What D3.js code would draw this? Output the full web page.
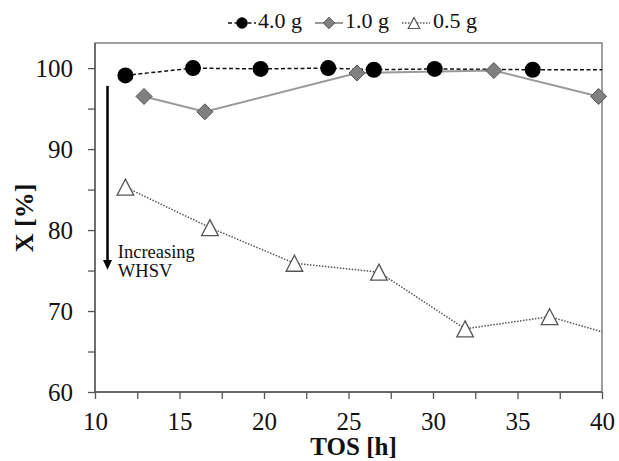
<!DOCTYPE html>
<html>
<head>
<meta charset="utf-8">
<script src="https://cdn.jsdelivr.net/npm/d3@7"></script>
<style>
  body { margin: 0; background: #fff; }
  #chart text { font-family: "Liberation Serif", "Times New Roman", serif; fill: #111; }
</style>
</head>
<body>
<div id="chart"></div>
<script>
// TOS [h] and conversion X [%] per catalyst loading
const tos40 = [11.8, 15.8, 19.8, 23.8, 26.5, 30.1, 35.9, 42.0];
const conv40 = [99.1, 100.0, 99.9, 100.0, 99.8, 99.9, 99.8, 99.8];
const tos10 = [12.9, 16.5, 25.5, 33.6, 39.8];
const conv10 = [96.5, 94.6, 99.4, 99.7, 96.5];
const tos05 = [11.8, 16.8, 21.8, 26.8, 31.9, 36.9, 41.9];
const conv05 = [85.3, 80.3, 75.9, 74.8, 67.8, 69.3, 66.3];

const xTicks = [10, 15, 20, 25, 30, 35, 40];
const yTicks = [60, 70, 80, 90, 100];
const seriesNames = ["4.0 g", "1.0 g", "0.5 g"];

const W = 619, H = 461;
const margin = { top: 43, right: 17, bottom: 69, left: 95 };
const width = W - margin.left - margin.right;
const height = H - margin.top - margin.bottom;

const svg = d3.select("#chart").append("svg")
  .attr("width", W).attr("height", H);

const x = d3.scaleLinear().domain([10, 40]).range([0, width]);
const y = d3.scaleLinear().domain([60, 103.1]).range([height, 0]);

const g = svg.append("g")
  .attr("transform", `translate(${margin.left},${margin.top})`);

g.append("defs").append("clipPath").attr("id", "clip")
  .append("rect").attr("width", width).attr("height", height);

// frame
g.append("rect")
  .attr("width", width).attr("height", height)
  .attr("fill", "none").attr("stroke", "#808080").attr("stroke-width", 1.5);

// axes
const xAxis = g.append("g")
  .attr("transform", `translate(0,${height})`)
  .call(d3.axisBottom(x).tickValues(d3.range(10, 40.1, 2.5)).tickSize(7)
    .tickFormat(d => xTicks.includes(d) ? d : ""));
const yAxis = g.append("g")
  .call(d3.axisLeft(y).tickValues(d3.range(60, 100.1, 5)).tickSize(7)
    .tickFormat(d => yTicks.includes(d) ? d : ""));

[xAxis, yAxis].forEach(a => {
  a.attr("font-family", "'Liberation Serif', serif");
  a.select(".domain").remove();
  a.selectAll("line").attr("stroke", "#555").attr("stroke-width", 1.3);
  a.selectAll("text").style("font-size", "25px").attr("fill", "#111");
});
xAxis.selectAll("text").attr("dy", 0).attr("y", 38);
yAxis.selectAll("text").attr("x", -22);
g.append("line").attr("x1", 0).attr("x2", width).attr("y1", height).attr("y2", height)
  .attr("stroke", "#555").attr("stroke-width", 1.3);
g.append("line").attr("x1", 0).attr("x2", 0).attr("y1", 0).attr("y2", height)
  .attr("stroke", "#555").attr("stroke-width", 1.3);

// axis titles
svg.append("text")
  .attr("x", margin.left + x(25.3)).attr("y", 455)
  .attr("text-anchor", "middle")
  .style("font-size", "25px").style("font-weight", "bold")
  .text("TOS [h]");
svg.append("text")
  .attr("transform", `translate(33,${margin.top + y(81.5)}) rotate(-90)`)
  .attr("text-anchor", "middle")
  .style("font-size", "26px").style("font-weight", "bold")
  .text("X [%]");

const line = d3.line().x(d => x(d[0])).y(d => y(d[1]));
const plot = g.append("g");
const lines = plot.append("g").attr("clip-path", "url(#clip)");

const s40 = d3.zip(tos40, conv40);
const s10 = d3.zip(tos10, conv10);
const s05 = d3.zip(tos05, conv05);
const inside = d => d[0] <= 40;

const triPath = sz => "M0," + (-sz * 0.5) + "L" + (sz * 0.52) + "," + (sz * 0.5) + "L" + (-sz * 0.52) + "," + (sz * 0.5) + "Z";
const diaPath = sz => `M0,${-sz}L${sz},0L0,${sz}L${-sz},0Z`;

// 4.0 g
lines.append("path").datum(s40)
  .attr("fill", "none").attr("stroke", "#111").attr("stroke-width", 1.5)
  .attr("stroke-dasharray", "4,2.5").attr("d", line);
plot.selectAll(".c40").data(s40.filter(inside)).enter().append("circle")
  .attr("cx", d => x(d[0])).attr("cy", d => y(d[1])).attr("r", 8)
  .attr("fill", "#000");

// 1.0 g
lines.append("path").datum(s10)
  .attr("fill", "none").attr("stroke", "#9a9a9a").attr("stroke-width", 2)
  .attr("d", line);
plot.selectAll(".d10").data(s10.filter(inside)).enter().append("path")
  .attr("transform", d => `translate(${x(d[0])},${y(d[1])})`)
  .attr("d", diaPath(8)).attr("fill", "#808080").attr("stroke", "#555").attr("stroke-width", 1);

// 0.5 g
lines.append("path").datum(s05)
  .attr("fill", "none").attr("stroke", "#555").attr("stroke-width", 1.5)
  .attr("stroke-dasharray", "1.5,1.5").attr("d", line);
plot.selectAll(".t05").data(s05.filter(inside)).enter().append("path")
  .attr("transform", d => `translate(${x(d[0])},${y(d[1])})`)
  .attr("d", triPath(16)).attr("fill", "#fff").attr("stroke", "#555").attr("stroke-width", 1.3);

// annotation arrow
const ax = x(10.74);
g.append("line")
  .attr("x1", ax).attr("x2", ax).attr("y1", y(97.8)).attr("y2", y(76.2))
  .attr("stroke", "#000").attr("stroke-width", 2.5);
g.append("path")
  .attr("d", `M${ax - 4.5},${y(76.3)}L${ax + 4.5},${y(76.3)}L${ax},${y(75.1)}Z`)
  .attr("fill", "#000");
g.append("text").attr("x", x(11.35)).attr("y", y(76.55))
  .style("font-size", "18.5px").text("Increasing");
g.append("text").attr("x", x(11.35)).attr("y", y(74.2))
  .style("font-size", "18.5px").text("WHSV");

// legend
const legendItems = [
  { name: seriesNames[0], x0: 228, dash: "4,2.5", stroke: "#111", w: 1.5 },
  { name: seriesNames[1], x0: 315, dash: null, stroke: "#9a9a9a", w: 2 },
  { name: seriesNames[2], x0: 402, dash: "1.5,1.5", stroke: "#555", w: 1.5 }
];
const ly = 23;
const legend = svg.append("g");
legendItems.forEach((it, i) => {
  const lg = legend.append("g").attr("transform", `translate(${it.x0},${ly})`);
  lg.append("line").attr("x1", 0).attr("x2", 28).attr("y1", 0).attr("y2", 0)
    .attr("stroke", it.stroke).attr("stroke-width", it.w)
    .attr("stroke-dasharray", it.dash);
  if (i === 0) lg.append("circle").attr("cx", 14).attr("r", 5.7).attr("fill", "#000");
  if (i === 1) lg.append("path").attr("transform", "translate(14,0)").attr("d", diaPath(5.7))
    .attr("fill", "#808080").attr("stroke", "#555");
  if (i === 2) lg.append("path").attr("transform", "translate(12,0)").attr("d", triPath(11))
    .attr("fill", "#fff").attr("stroke", "#555").attr("stroke-width", 1.2);
  lg.append("text").attr("x", i === 2 ? 31 : 30).attr("y", 5)
    .style("font-size", "22px").text(it.name);
});
</script>
</body>
</html>
